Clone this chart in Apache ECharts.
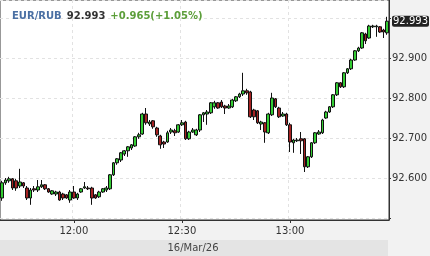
<!DOCTYPE html>
<html>
<head>
<meta charset="utf-8">
<script src="https://cdn.jsdelivr.net/npm/echarts@6/dist/echarts.min.js"></script>
<style>
html,body{margin:0;padding:0;background:#f2f2f2;}
#c{width:430px;height:256px;}
</style>
</head>
<body>
<div id="c"></div>
<script>
const categories = ['11:40','11:41','11:42','11:43','11:44','11:45','11:46','11:47','11:48','11:49',
'11:50','11:51','11:52','11:53','11:54','11:55','11:56','11:57','11:58','11:59',
'12:00','12:01','12:02','12:03','12:04','12:05','12:06','12:07','12:08','12:09',
'12:10','12:11','12:12','12:13','12:14','12:15','12:16','12:17','12:18','12:19',
'12:20','12:21','12:22','12:23','12:24','12:25','12:26','12:27','12:28','12:29',
'12:30','12:31','12:32','12:33','12:34','12:35','12:36','12:37','12:38','12:39',
'12:40','12:41','12:42','12:43','12:44','12:45','12:46','12:47','12:48','12:49',
'12:50','12:51','12:52','12:53','12:54','12:55','12:56','12:57','12:58','12:59',
'13:00','13:01','13:02','13:03','13:04','13:05','13:06','13:07','13:08','13:09',
'13:10','13:11','13:12','13:13','13:14','13:15','13:16','13:17','13:18','13:19',
'13:20','13:21','13:22','13:23','13:24','13:25','13:26','13:27'];

const opens = [92.551,92.589,92.594,92.599,92.594,92.581,92.589,92.576,92.551,92.574,
92.571,92.579,92.584,92.574,92.561,92.561,92.566,92.561,92.559,92.546,
92.566,92.551,92.566,92.576,92.576,92.576,92.559,92.554,92.566,92.571,
92.574,92.609,92.639,92.646,92.661,92.669,92.676,92.681,92.704,92.711,
92.761,92.736,92.744,92.726,92.706,92.691,92.691,92.716,92.719,92.716,
92.734,92.741,92.699,92.716,92.709,92.721,92.759,92.761,92.764,92.779,
92.789,92.791,92.781,92.776,92.779,92.794,92.804,92.811,92.819,92.816,
92.771,92.769,92.736,92.739,92.714,92.759,92.799,92.776,92.756,92.761,
92.734,92.689,92.694,92.699,92.699,92.629,92.654,92.689,92.711,92.714,
92.751,92.766,92.779,92.809,92.839,92.829,92.864,92.874,92.896,92.919,
92.926,92.961,92.951,92.979,92.979,92.979,92.971,92.964];

const closes = [92.589,92.596,92.599,92.576,92.576,92.591,92.581,92.551,92.571,92.571,
92.579,92.584,92.574,92.566,92.569,92.566,92.546,92.551,92.551,92.566,
92.551,92.561,92.574,92.579,92.574,92.551,92.551,92.566,92.574,92.576,
92.609,92.639,92.649,92.664,92.669,92.679,92.684,92.704,92.709,92.761,
92.739,92.741,92.729,92.709,92.684,92.686,92.714,92.721,92.714,92.734,
92.739,92.699,92.716,92.721,92.721,92.759,92.764,92.766,92.789,92.789,
92.776,92.779,92.776,92.781,92.796,92.804,92.811,92.819,92.814,92.754,
92.754,92.739,92.741,92.716,92.761,92.801,92.779,92.754,92.761,92.734,
92.691,92.696,92.696,92.694,92.629,92.654,92.689,92.714,92.716,92.746,
92.766,92.779,92.809,92.839,92.829,92.864,92.874,92.896,92.919,92.926,
92.964,92.944,92.981,92.981,92.981,92.966,92.966,92.993];

const lows = [92.544,92.584,92.589,92.571,92.569,92.576,92.576,92.546,92.534,92.566,
92.566,92.576,92.571,92.564,92.559,92.556,92.544,92.546,92.549,92.539,
92.549,92.546,92.564,92.574,92.571,92.534,92.549,92.551,92.564,92.566,
92.571,92.606,92.634,92.641,92.656,92.654,92.671,92.679,92.699,92.709,
92.734,92.731,92.724,92.704,92.674,92.676,92.689,92.711,92.706,92.714,
92.731,92.696,92.696,92.714,92.706,92.716,92.741,92.734,92.761,92.774,
92.774,92.776,92.761,92.774,92.776,92.791,92.801,92.806,92.809,92.751,
92.746,92.736,92.721,92.689,92.711,92.756,92.776,92.751,92.754,92.731,
92.666,92.664,92.691,92.661,92.616,92.626,92.651,92.686,92.709,92.711,
92.749,92.764,92.776,92.806,92.826,92.826,92.861,92.871,92.894,92.916,
92.924,92.936,92.949,92.976,92.954,92.964,92.951,92.959];

const highs = [92.594,92.601,92.604,92.601,92.599,92.624,92.591,92.581,92.576,92.581,
92.596,92.596,92.586,92.576,92.571,92.569,92.569,92.564,92.561,92.571,
92.581,92.564,92.576,92.591,92.581,92.579,92.561,92.569,92.576,92.581,
92.611,92.641,92.651,92.666,92.671,92.681,92.686,92.706,92.714,92.764,
92.776,92.746,92.746,92.729,92.709,92.694,92.719,92.726,92.724,92.736,
92.746,92.744,92.719,92.726,92.724,92.761,92.766,92.771,92.791,92.794,
92.791,92.796,92.784,92.786,92.799,92.806,92.814,92.864,92.824,92.819,
92.774,92.771,92.744,92.741,92.764,92.814,92.801,92.779,92.766,92.764,
92.739,92.699,92.701,92.716,92.701,92.656,92.691,92.716,92.721,92.749,
92.769,92.781,92.811,92.841,92.841,92.866,92.876,92.899,92.921,92.929,
92.966,92.964,92.984,92.984,92.984,92.981,92.974,93.004];

const xTickLabels = ['12:00','12:30','13:00'];
const yTickLabels = ['92.600','92.700','92.800','92.900'];
const lastPrice = 92.993;
const titlePair = 'EUR/RUB';
const titlePrice = '92.993';
const titleChange = '+0.965(+1.05%)';
const dateLabel = '16/Mar/26';

const ohlc = opens.map((o, i) => [o, closes[i], lows[i], highs[i]]);
const FONT = 'DejaVu Sans';

const chart = echarts.init(document.getElementById('c'), null, {renderer: 'canvas'});
chart.setOption({
  animation: false,
  backgroundColor: '#f2f2f2',
  title: {
    left: 7, top: 2,
    text: '{a|' + titlePair + '} {b|' + titlePrice + '} {c|' + titleChange + '}',
    textStyle: {
      rich: {
        a: {color: '#4a6fa3', fontWeight: 'bold', fontSize: 10, fontFamily: FONT},
        b: {color: '#333333', fontWeight: 'bold', fontSize: 10, fontFamily: FONT},
        c: {color: '#5c9e3a', fontWeight: 'bold', fontSize: 10, fontFamily: FONT}
      }
    }
  },
  grid: {
    left: 0, right: 40, top: 0, bottom: 36,
    show: true, backgroundColor: '#ffffff', borderColor: '#333333', borderWidth: 1
  },
  graphic: [
    {type: 'rect', z: -10, shape: {x: 0, y: 240, width: 388, height: 16}, style: {fill: '#e4e4e4'}},
    {type: 'text', x: 193, y: 248, style: {text: dateLabel, textAlign: 'center', textVerticalAlign: 'middle', fill: '#444', font: '10px "DejaVu Sans"'}}
  ],
  xAxis: {
    type: 'category',
    data: categories,
    boundaryGap: true,
    axisLine: {show: true, lineStyle: {color: '#333'}},
    axisTick: {show: true, alignWithLabel: true, length: 3, lineStyle: {color: '#333'},
      interval: (idx, val) => xTickLabels.includes(val)},
    axisLabel: {color: '#333', fontSize: 10, fontFamily: FONT, margin: 6,
      interval: (idx, val) => xTickLabels.includes(val)},
    splitLine: {show: true, interval: (idx, val) => xTickLabels.includes(val),
      lineStyle: {color: '#e2e2e2', type: [3, 3]}}
  },
  yAxis: {
    type: 'value',
    position: 'right',
    min: 92.496, max: 93.046,
    scale: true,
    axisLine: {show: true, lineStyle: {color: '#333'}},
    axisTick: {show: true, length: 2, lineStyle: {color: '#333'}},
    axisLabel: {color: '#333', fontSize: 10, fontFamily: FONT, margin: 3,
      showMinLabel: false, showMaxLabel: false,
      formatter: v => { const s = v.toFixed(3); return yTickLabels.includes(s) ? s : ''; }},
    splitLine: {show: true, lineStyle: {color: '#e2e2e2', type: [3, 3]}}
  },
  series: [{
    type: 'candlestick',
    data: ohlc,
    barWidth: 3.2,
    itemStyle: {
      color: '#33cc33', color0: '#a52222',
      borderColor: '#111111', borderColor0: '#111111', borderWidth: 1
    },
    markLine: {
      silent: true,
      precision: 3,
      symbol: ['none', 'none'],
      lineStyle: {color: 'rgba(0,0,0,0)', width: 1},
      data: [{yAxis: lastPrice}],
      label: {
        show: true, position: 'end', distance: 3,
        formatter: () => lastPrice.toFixed(3),
        color: '#ffffff', backgroundColor: '#222222', borderRadius: 2,
        padding: [1, 1, 0, 1], fontSize: 10, fontFamily: FONT, opacity: 1
      }
    }
  }]
});
</script>
</body>
</html>
